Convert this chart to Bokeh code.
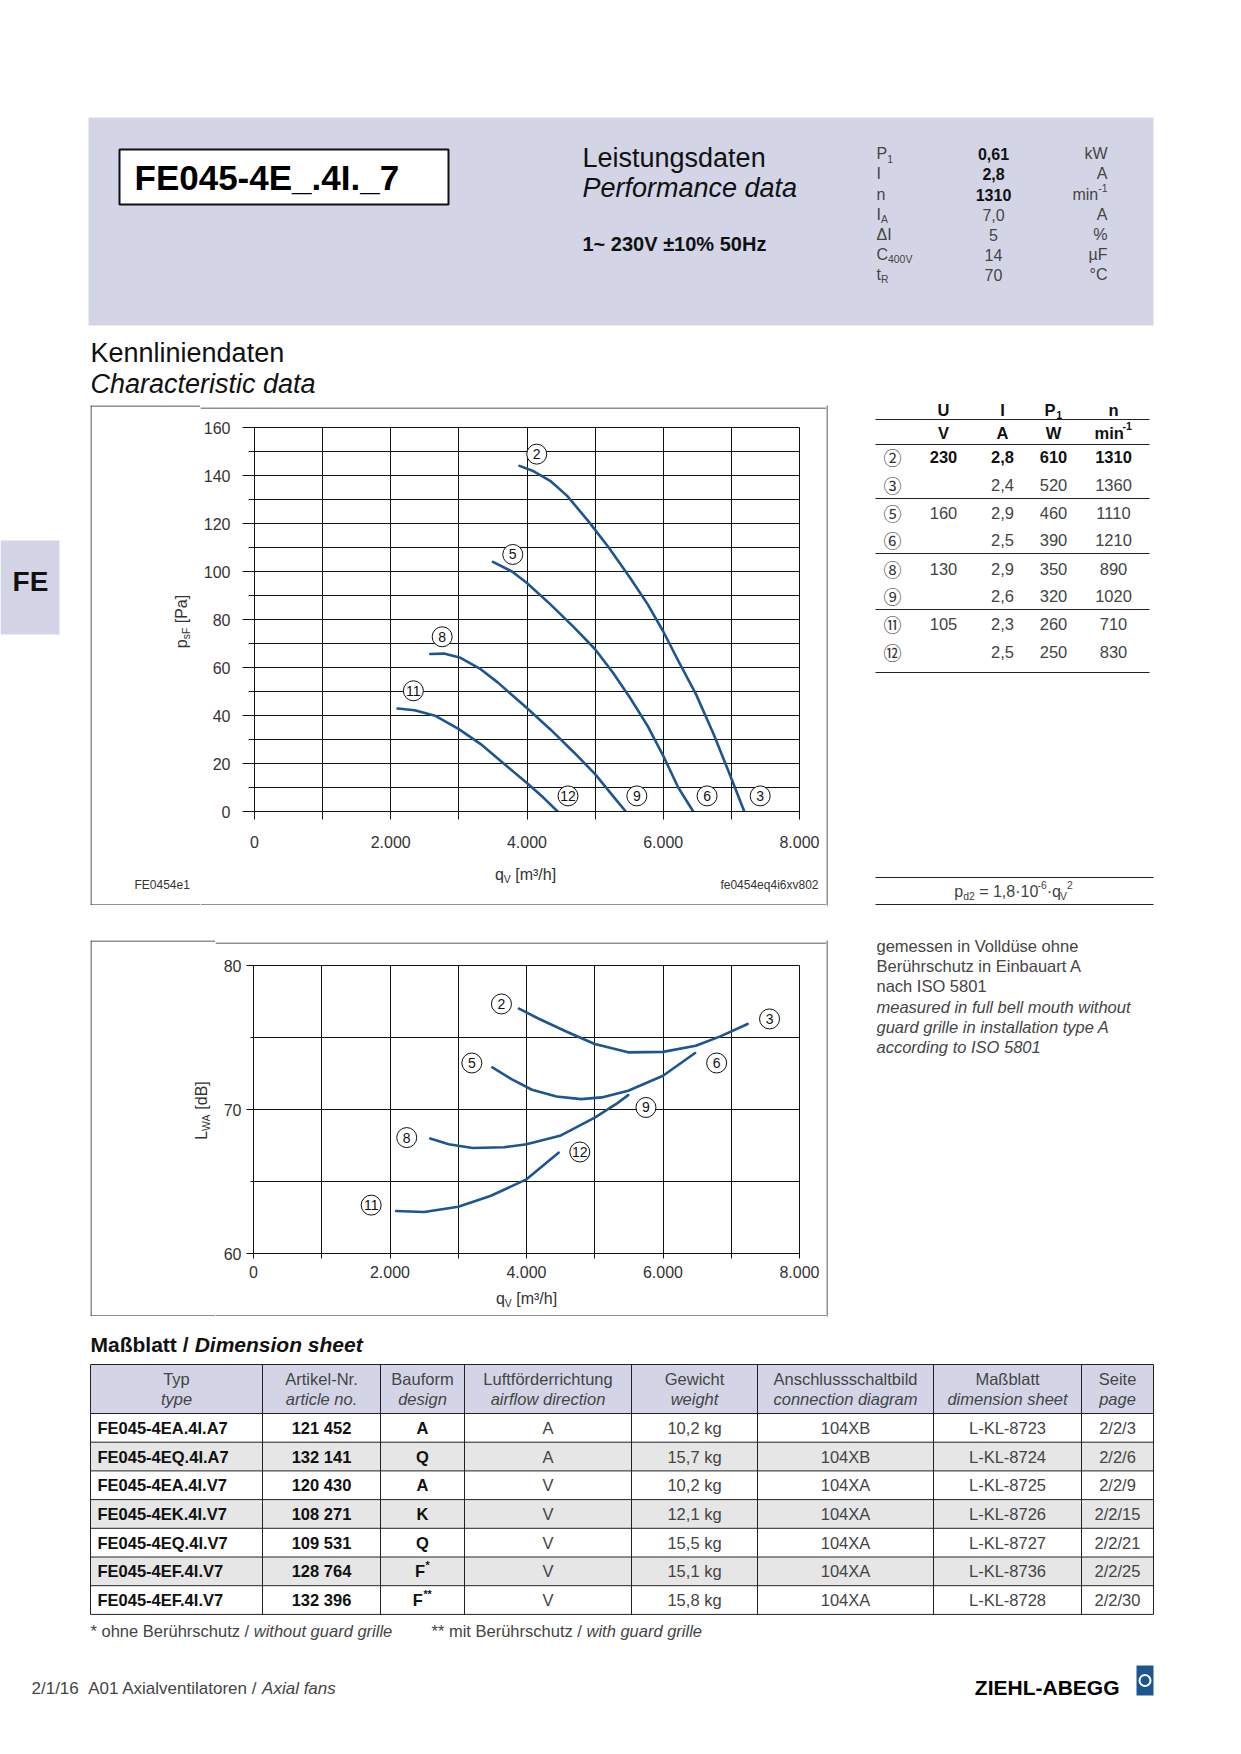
import math
from bokeh.plotting import figure
from bokeh.models import Range1d, FixedTicker, Spacer
from bokeh.layouts import column, row
from bokeh.core.properties import value
from bokeh.embed import file_html
from bokeh.resources import INLINE

FONT = "Liberation Sans"
CFONT = "Noto Sans CJK JP"
BLUE = "#1d5591"
LAV = "#d3d5e7"
INK = "#2b2b2b"
EDGE = "#222222"

# ---------------- data ----------------
title_text = "FE045-4E_.4I._7"
param_sym = [("P", "1"), ("I", ""), ("n", ""), ("I", "A"), ("ΔI", ""), ("C", "400V"), ("t", "R")]
param_val = ["0,61", "2,8", "1310", "7,0", "5", "14", "70"]
param_bold = [True, True, True, False, False, False, False]
param_unit = ["kW", "A", "min-1", "A", "%", "µF", "°C"]

# pressure characteristic p_sF [Pa] over q_V [m3/h]
p_q_2_3 = [3890, 4080, 4340, 4590, 4900, 5200, 5510, 5770, 6000, 6220, 6480, 6740, 6990, 7190]
p_p_2_3 = [144, 142, 137.8, 131.5, 121, 110, 97.5, 86.4, 75, 62.8, 48.9, 32.2, 14.5, 0]
p_q_5_6 = [3500, 3780, 3990, 4340, 4690, 5000, 5260, 5510, 5770, 6000, 6220, 6440]
p_p_5_6 = [104, 100, 95.4, 86.4, 76.7, 67.6, 57.9, 47.5, 35.7, 23.2, 10, 0]
p_q_8_9 = [2580, 2780, 3010, 3320, 3570, 3990, 4340, 4690, 5000, 5260, 5450]
p_p_8_9 = [65.6, 65.8, 64.2, 59.3, 53.8, 43.3, 34.3, 24.6, 15.6, 6.5, 0]
p_q_11_12 = [2100, 2350, 2650, 3000, 3320, 3670, 3990, 4240, 4450]
p_p_11_12 = [42.9, 42.2, 39.9, 34.3, 28.1, 19.7, 12.1, 5.8, 0]

# sound power L_WA [dB] over q_V [m3/h]
s_q_2_3 = [3890, 4180, 4590, 5000, 5490, 6000, 6480, 6840, 7240]
s_L_2_3 = [77.0, 76.3, 75.4, 74.55, 73.97, 74.0, 74.43, 75.08, 75.94]
s_q_5_6 = [3500, 3780, 4080, 4440, 4800, 5100, 5490, 6000, 6470]
s_L_5_6 = [72.92, 72.11, 71.37, 70.9, 70.72, 70.84, 71.3, 72.34, 73.92]
s_q_8_9 = [2590, 2860, 3210, 3670, 4000, 4490, 5000, 5310, 5490]
s_L_8_9 = [67.98, 67.59, 67.33, 67.38, 67.59, 68.17, 69.44, 70.37, 71.0]
s_q_11_12 = [2090, 2500, 3000, 3470, 4000, 4470]
s_L_11_12 = [62.95, 62.88, 63.25, 63.99, 65.15, 67.0]

point_ids = ["2", "3", "5", "6", "8", "9", "11", "12"]
p_lbl_q = [4143, 7423, 3791, 6643, 2755, 5612, 2332, 4602]
p_lbl_p = [148.9, 6.5, 107.1, 6.5, 72.8, 6.5, 50.3, 6.5]
s_lbl_q = [3633, 7561, 3199, 6786, 2245, 5750, 1724, 4781]
s_lbl_L = [77.33, 76.29, 73.23, 73.23, 68.05, 70.14, 63.36, 67.05]

x_ticks = [0, 2000, 4000, 6000, 8000]
x_tick_labels = ["0", "2.000", "4.000", "6.000", "8.000"]
p_ticks = [0, 20, 40, 60, 80, 100, 120, 140, 160]
s_ticks = [60, 70, 80]

# operating points table
op_id = ["②", "③", "⑤", "⑥", "⑧", "⑨", "⑪", "⑫"]
op_U = ["230", "", "160", "", "130", "", "105", ""]
op_I = ["2,8", "2,4", "2,9", "2,5", "2,9", "2,6", "2,3", "2,5"]
op_P = ["610", "520", "460", "390", "350", "320", "260", "250"]
op_n = ["1310", "1360", "1110", "1210", "890", "1020", "710", "830"]

notes_de = ["gemessen in Volldüse ohne", "Berührschutz in Einbauart A", "nach ISO 5801"]
notes_en = ["measured in full bell mouth without", "guard grille in installation type A", "according to ISO 5801"]

# dimension sheet table
dim_head_de = ["Typ", "Artikel-Nr.", "Bauform", "Luftförderrichtung", "Gewicht", "Anschlussschaltbild", "Maßblatt", "Seite"]
dim_head_en = ["type", "article no.", "design", "airflow direction", "weight", "connection diagram", "dimension sheet", "page"]
dim_typ = ["FE045-4EA.4I.A7", "FE045-4EQ.4I.A7", "FE045-4EA.4I.V7", "FE045-4EK.4I.V7", "FE045-4EQ.4I.V7", "FE045-4EF.4I.V7", "FE045-4EF.4I.V7"]
dim_art = ["121 452", "132 141", "120 430", "108 271", "109 531", "128 764", "132 396"]
dim_bau = ["A", "Q", "A", "K", "Q", "F*", "F**"]
dim_luft = ["A", "A", "V", "V", "V", "V", "V"]
dim_gew = ["10,2 kg", "15,7 kg", "10,2 kg", "12,1 kg", "15,5 kg", "15,1 kg", "15,8 kg"]
dim_ans = ["104XB", "104XB", "104XA", "104XA", "104XA", "104XA", "104XA"]
dim_mass = ["L-KL-8723", "L-KL-8724", "L-KL-8725", "L-KL-8726", "L-KL-8727", "L-KL-8736", "L-KL-8728"]
dim_seite = ["2/2/3", "2/2/6", "2/2/9", "2/2/15", "2/2/21", "2/2/25", "2/2/30"]

# ---------------- helpers ----------------
AW = {' ': 278, '\u00a0': 278, '!': 278, '%': 889, '(': 333, ')': 333, '*': 389, '+': 584, ',': 278, '-': 333,
      '.': 278, '/': 278, ':': 278, '=': 584, '[': 278, ']': 278, '_': 556, '~': 584, '±': 584, '·': 278,
      '°': 400, 'µ': 576, 'Δ': 668, '³': 333, '²': 333,
      'A': 667, 'B': 667, 'C': 722, 'D': 722, 'E': 667, 'F': 611, 'G': 778, 'H': 722, 'I': 278, 'J': 500,
      'K': 667, 'L': 556, 'M': 833, 'N': 722, 'O': 778, 'P': 667, 'Q': 778, 'R': 722, 'S': 667, 'T': 611,
      'U': 722, 'V': 667, 'W': 944, 'X': 667, 'Y': 667, 'Z': 611,
      'a': 556, 'b': 556, 'c': 500, 'd': 556, 'e': 556, 'f': 278, 'g': 556, 'h': 556, 'i': 222, 'j': 222,
      'k': 500, 'l': 222, 'm': 833, 'n': 556, 'o': 556, 'p': 556, 'q': 556, 'r': 333, 's': 500, 't': 278,
      'u': 556, 'v': 500, 'w': 722, 'x': 500, 'y': 500, 'z': 500, 'ß': 611, 'ü': 556, 'ö': 556, 'ä': 556}


def tw(s, size, bold=False):
    w = sum(AW.get(c, 556) for c in s) / 1000.0 * size
    return w * 1.05 if bold else w


def fix_spaces(s):
    # SVG collapses leading/trailing/double spaces; protect them
    n = len(s) - len(s.lstrip(" "))
    m = len(s) - len(s.rstrip(" "))
    core = s.strip(" ").replace("  ", " \u00a0")
    return "\u00a0" * n + core + "\u00a0" * m


def canvas(w, h):
    p = figure(width=w, height=h, x_range=Range1d(0, w), y_range=Range1d(h, 0),
               output_backend="svg", toolbar_location=None, tools="",
               x_axis_location=None, y_axis_location=None, min_border=0)
    p.xgrid.visible = False
    p.ygrid.visible = False
    p.outline_line_color = None
    return p


def seg(p, x0, y0, x1, y1, color=EDGE, width=1):
    p.segment(x0=[x0], y0=[y0], x1=[x1], y1=[y1], line_color=color, line_width=width)


def txt(p, x, y, s, size=16, style="normal", align="left", color=INK, font=FONT, angle=0):
    p.text(x=[x], y=[y], text=[fix_spaces(s)], text_font=value(font), text_font_size=f"{size}px",
           text_font_style=style, text_align=align, text_baseline="middle", text_color=color, angle=angle)


def _items(parts, size, style):
    small = size * 0.65
    items, total = [], 0.0
    for part in parts:
        t, mode = part[0], part[1]
        st = part[2] if len(part) > 2 else style
        sz = size if mode == "n" else small
        w = tw(t, sz, "bold" in st)
        items.append((t, mode, st, sz, w))
        total += w
    return items, total


def rich(p, x, y, parts, size=16, style="normal", align="left", color=INK):
    items, total = _items(parts, size, style)
    cx = x - total / 2 if align == "center" else (x - total if align == "right" else x)
    for t, mode, st, sz, w in items:
        dy = 0 if mode == "n" else (0.32 * size if mode == "sub" else -0.38 * size)
        txt(p, cx, y + dy, t, sz, st, "left", color)
        cx += w


def rich_up(p, x, y, parts, size=16, color=INK):
    # text reading bottom-to-top, centred on (x, y) in a canvas whose y grows downward
    items, total = _items(parts, size, "normal")
    cy = y + total / 2
    for t, mode, st, sz, w in items:
        dx = 0 if mode == "n" else (0.3 * size if mode == "sub" else -0.38 * size)
        txt(p, x + dx, cy, t, sz, st, "left", color, angle=math.pi / 2)
        cy -= w


def chart(w, h, yr, b_left, b_top, b_bot, ymaj, ymin, ygrid, ytick_out, yminor_out, ystand, xtick_out, xstand):
    p = figure(width=w, height=h, x_range=Range1d(0, 8000), y_range=Range1d(*yr),
               min_border_left=b_left, min_border_right=27, min_border_top=b_top, min_border_bottom=b_bot,
               output_backend="svg", toolbar_location=None, tools="")
    p.outline_line_color = "#111"
    p.outline_line_alpha = 1
    p.xaxis.ticker = FixedTicker(ticks=x_ticks, minor_ticks=[1000, 3000, 5000, 7000])
    p.xaxis.major_label_overrides = {t: l for t, l in zip(x_ticks, x_tick_labels)}
    p.yaxis.ticker = FixedTicker(ticks=ymaj, minor_ticks=ymin)
    p.xgrid.ticker = FixedTicker(ticks=list(range(0, 8001, 1000)))
    p.ygrid.ticker = FixedTicker(ticks=ygrid)
    for g in (p.xgrid, p.ygrid):
        g.grid_line_color = "#111"
        g.grid_line_width = 1
        g.grid_line_alpha = 1
    for ax in (p.xaxis, p.yaxis):
        ax.axis_line_color = "#111"
        ax.major_tick_line_color = "#111"
        ax.minor_tick_line_color = "#111"
        ax.major_tick_in = 0
        ax.minor_tick_in = 0
        ax.major_label_text_font = FONT
        ax.major_label_text_font_size = "16px"
        ax.major_label_text_color = "#333"
    p.yaxis.major_tick_out = ytick_out
    p.yaxis.minor_tick_out = yminor_out
    p.yaxis.major_label_standoff = ystand
    p.xaxis.major_tick_out = xtick_out
    p.xaxis.minor_tick_out = xtick_out
    p.xaxis.major_label_standoff = xstand
    return p


def markers(p, xs, ys):
    p.scatter(x=xs, y=ys, size=20, marker="circle", fill_color="white", line_color="#111", line_width=1)
    p.text(x=xs, y=ys, text=point_ids, text_font=value(FONT), text_font_size="14px",
           text_align="center", text_baseline="middle", text_color="#111")


def boxed(lw, cw, th, ch, bh):
    """strips around a chart figure that carry the left/top/bottom of the diagram frame"""
    L = canvas(lw, th + ch + bh)
    seg(L, 0.5, 0, 0.5, th + ch + bh)
    seg(L, 0, 0.5, lw, 0.5)
    seg(L, 0, th + ch + bh - 0.5, lw, th + ch + bh - 0.5)
    T = canvas(cw, th)
    seg(T, 0, 0.5, cw, 0.5)
    B = canvas(cw, bh)
    seg(B, 0, bh - 0.5, cw, bh - 0.5)
    return L, T, B


# ---------------- band 1: header ----------------
top = canvas(1241, 398)
top.quad(left=[88], right=[1153], top=[117], bottom=[325], fill_color=LAV, line_color=None)
top.quad(left=[119], right=[448], top=[149], bottom=[204], fill_color="white", line_color="#111", line_width=2)
txt(top, 134, 177, title_text, 35, "bold", "left", "#000")
txt(top, 582, 157, "Leistungsdaten", 27, "normal", "left", "#111")
txt(top, 582, 187, "Performance data", 27, "italic", "left", "#111")
txt(top, 582, 243, "1~ 230V ±10% 50Hz", 20, "bold", "left", "#111")
param_y = [153, 173, 194, 214, 234, 254, 274]
for (s, sub), v, b, u, y in zip(param_sym, param_val, param_bold, param_unit, param_y):
    parts = [(s, "n")] + ([(sub, "sub")] if sub else [])
    rich(top, 876, y, parts, 16, color="#444")
    txt(top, 993, y, v, 16, "bold" if b else "normal", "center", "#111" if b else "#444")
    if u == "min-1":
        rich(top, 1107, y, [("min", "n"), ("-1", "sup")], 16, align="right", color="#444")
    else:
        txt(top, 1107, y, u, 16, "normal", "right", "#444")
txt(top, 90, 352, "Kennliniendaten", 27, "normal", "left", "#111")
txt(top, 90, 383, "Characteristic data", 27, "italic", "left", "#111")

# ---------------- band 2: pressure chart ----------------
left2 = canvas(90, 512)
left2.quad(left=[0], right=[59], top=[142], bottom=[236], fill_color=LAV, line_color=None)
txt(left2, 30, 183, "FE", 28, "bold", "center", "#111")

p1 = chart(626, 445, (0, 160), 53, 12, 49, p_ticks, [10, 30, 50, 70, 90, 110, 130, 150],
           list(range(0, 161, 10)), 12, 6, 12, 8, 16)
for qs, ps in ((p_q_2_3, p_p_2_3), (p_q_5_6, p_p_5_6), (p_q_8_9, p_p_8_9), (p_q_11_12, p_p_11_12)):
    p1.line(qs, ps, line_color=BLUE, line_width=2.6, line_join="round", line_cap="round")
markers(p1, p_lbl_q, p_lbl_p)
L1, T1, B1 = boxed(110, 626, 10, 445, 45)
rich_up(L1, 91, 216, [("p", "n"), ("sF", "sub"), (" [Pa]", "n")], 16, color="#333")
txt(L1, 44, 479, "FE0454e1", 12, "normal", "left", "#333")
rich(B1, 325, 14, [("q", "n"), ("V", "sub"), (" [m³/h]", "n")], 16, align="center", color="#333")
txt(B1, 618, 24, "fe0454eq4i6xv802", 12, "normal", "right", "#333")
# wrap the chart in its own row so that its frame is not aligned with the strips
block1 = row(L1, column(T1, row(p1), B1))

right2 = canvas(415, 512)
seg(right2, 0.5, 7, 0.5, 507)   # right edge of the diagram frame
tl_y = [21, 46, 100, 155, 211, 274]
right2.segment(x0=[49] * 6, x1=[323] * 6, y0=tl_y, y1=tl_y, line_color=EDGE, line_width=1)
col_x = [66, 117, 176, 227, 287]
txt(right2, col_x[1], 11, "U", 16.5, "bold", "center", "#111")
txt(right2, col_x[2], 11, "I", 16.5, "bold", "center", "#111")
rich(right2, col_x[3], 11, [("P", "n"), ("1", "sub")], 16.5, "bold", "center", "#111")
txt(right2, col_x[4], 11, "n", 16.5, "bold", "center", "#111")
txt(right2, col_x[1], 34, "V", 16.5, "bold", "center", "#111")
txt(right2, col_x[2], 34, "A", 16.5, "bold", "center", "#111")
txt(right2, col_x[3], 34, "W", 16.5, "bold", "center", "#111")
rich(right2, col_x[4], 34, [("min", "n"), ("-1", "sup")], 16.5, "bold", "center", "#111")
op_y = [58, 86, 114, 141, 170, 197, 225, 253]
for i, y in enumerate(op_y):
    st = "bold" if i == 0 else "normal"
    colr = "#111" if i == 0 else "#444"
    txt(right2, col_x[0], y, op_id[i], 18, "normal", "center", "#333", CFONT)
    for cx, v in zip(col_x[1:], (op_U[i], op_I[i], op_P[i], op_n[i])):
        if v:
            txt(right2, cx, y, v, 16.5, st, "center", colr)
right2.segment(x0=[49, 49], x1=[327, 327], y0=[479, 506], y1=[479, 506], line_color=EDGE, line_width=1)
rich(right2, 187, 493, [("p", "n"), ("d2", "sub"), (" = 1,8·10", "n"), ("-6", "sup"), ("·q", "n"),
                        ("V", "sub"), ("2", "sup")], 16, color="#444", align="center")

# ---------------- band 3: sound chart ----------------
p2 = chart(611, 336, (60, 80), 38, 15, 33, s_ticks, [65, 75], [60, 65, 70, 75, 80], 7, 3, 5, 5, 7)
for qs, ls in ((s_q_2_3, s_L_2_3), (s_q_5_6, s_L_5_6), (s_q_8_9, s_L_8_9), (s_q_11_12, s_L_11_12)):
    p2.line(qs, ls, line_color=BLUE, line_width=2.6, line_join="round", line_cap="round")
markers(p2, s_lbl_q, s_lbl_L)
L2, T2, B2 = boxed(125, 611, 10, 336, 30)
rich_up(L2, 111, 170, [("L", "n"), ("WA", "sub"), (" [dB]", "n")], 16, color="#333")
rich(B2, 311, 12, [("q", "n"), ("V", "sub"), (" [m³/h]", "n")], 16, align="center", color="#333")
block2 = row(L2, column(T2, row(p2), B2))

right3 = canvas(415, 415)
seg(right3, 0.5, 30, 0.5, 406)   # right edge of the diagram frame
note_y = [35.6, 55.7, 75.9, 96.0, 116.1, 136.3]
for s, y in zip(notes_de + notes_en, note_y):
    txt(right3, 50, y, s, 16.5, "italic" if s in notes_en else "normal", "left", "#444")

# ---------------- band 4: dimension sheet ----------------
bot = canvas(1241, 429)
rich(bot, 90, 19, [("Maßblatt / ", "n", "bold"), ("Dimension sheet", "n", "bold italic")], 21, color="#111")
cols = [90, 262, 380, 464, 631, 757, 933, 1081, 1153]
hdr_top, hdr_bot, row_h = 39, 88, 28.7
nrows = len(dim_typ)
bot.quad(left=[cols[0]], right=[cols[-1]], top=[hdr_top], bottom=[hdr_bot], fill_color=LAV, line_color=None)
row_tops = [hdr_bot + i * row_h for i in range(nrows)]
bot.quad(left=[cols[0]] * nrows, right=[cols[-1]] * nrows, top=row_tops, bottom=[t + row_h for t in row_tops],
         fill_color=["#e6e6e6" if i % 2 else "white" for i in range(nrows)], line_color=None)
hl = [hdr_top, hdr_bot] + [t + row_h for t in row_tops]
bot.segment(x0=[cols[0]] * len(hl), x1=[cols[-1]] * len(hl), y0=hl, y1=hl, line_color=EDGE, line_width=1)
bot.segment(x0=cols, x1=cols, y0=[hdr_top] * len(cols), y1=[hl[-1]] * len(cols), line_color=EDGE, line_width=1)
centers = [(cols[i] + cols[i + 1]) / 2 for i in range(len(cols) - 1)]
for cx, de, en in zip(centers, dim_head_de, dim_head_en):
    txt(bot, cx, 53.6, de, 16.5, "normal", "center", "#444")
    txt(bot, cx, 73.8, en, 16.5, "italic", "center", "#444")
for i in range(nrows):
    y = row_tops[i] + row_h / 2
    txt(bot, 97, y, dim_typ[i], 16.5, "bold", "left", "#111")
    txt(bot, centers[1], y, dim_art[i], 16.5, "bold", "center", "#111")
    b = dim_bau[i]
    if "*" in b:
        rich(bot, centers[2], y, [(b[0], "n", "bold"), (b[1:], "sup", "bold")], 16.5, align="center", color="#111")
    else:
        txt(bot, centers[2], y, b, 16.5, "bold", "center", "#111")
    for cx, v in zip(centers[3:], (dim_luft[i], dim_gew[i], dim_ans[i], dim_mass[i], dim_seite[i])):
        txt(bot, cx, y, v, 16.5, "normal", "center", "#444")
rich(bot, 90, 305, [("* ohne Berührschutz / ", "n"), ("without guard grille", "n", "italic")], 16.5, color="#444")
rich(bot, 431, 305, [("** mit Berührschutz / ", "n"), ("with guard grille", "n", "italic")], 16.5, color="#444")
rich(bot, 31, 362.5, [("2/1/16  A01 Axialventilatoren / ", "n"), ("Axial fans", "n", "italic")], 17, color="#444")
txt(bot, 1119, 362, "ZIEHL-ABEGG", 21, "bold", "right", "#000")
bot.quad(left=[1136], right=[1153], top=[340], bottom=[370], fill_color=BLUE, line_color=None)
bot.circle(x=[1144.5], y=[355], radius=5.5, fill_color=None, line_color="white", line_width=2)

layout = column(
    top,
    row(left2, column(Spacer(width=736, height=7), block1, Spacer(width=736, height=5)), right2),
    row(Spacer(width=90, height=415), column(Spacer(width=736, height=30), block2, Spacer(width=736, height=9)), right3),
    bot,
)

open("out.html", "w").write(file_html(layout, INLINE, title=title_text))
